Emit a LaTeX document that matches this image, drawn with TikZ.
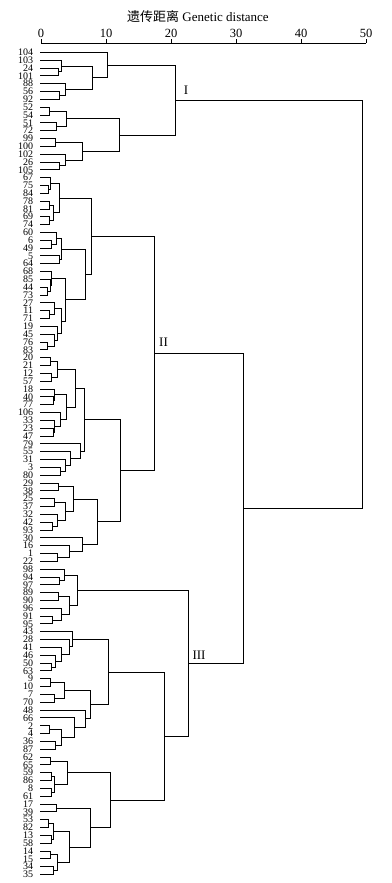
\documentclass[tikz,border=0pt]{standalone}
\usepackage{fontspec}
\setmainfont{Liberation Serif}
\newfontfamily\cjk{Noto Sans CJK SC}
\usetikzlibrary{calc}

% 枝の結合: 名前, 距離(x), 子1, 子2
\newcommand{\mrg}[4]{%
  \coordinate (#1m) at ($(#3)!0.5!(#4)$);
  \coordinate (#1) at (#2,0 |- #1m);
  \draw (#3) -| (#1) (#4) -| (#1);}

\tikzset{
  leaflab/.style={anchor=east, inner sep=0pt, font=\fontsize{10}{10}\selectfont},
  ticklab/.style={inner sep=0pt, font=\fontsize{12.5}{12.5}\selectfont},
  grouplab/.style={inner sep=0pt, font=\fontsize{13}{13}\selectfont}
}

\begin{document}
\begin{tikzpicture}[x=1pt, y=-1pt, line width=0.8pt]
    \useasboundingbox (0,0) rectangle (391,883);

    % 軸
    \node[font=\fontsize{13}{13}\selectfont, inner sep=0pt] (title) at (198,17) {{\cjk 遗传距离} Genetic distance};
    \coordinate (a0) at (41,43);
    \coordinate (a50) at (366,43);
    \draw (a0) -- (a50);
    \foreach \v in {0,10,20,30,40,50} {
        \coordinate (tk\v) at ({41+6.5*\v},43);
        \draw (tk\v) -- ++(0,-3.5);
        \node[ticklab] (v\v) at ({41+6.5*\v},33) {\v};
    }

    % 葉
    \foreach \lab [count=\i] in {104,103,24,101,88,56,92,52,54,51,72,99,100,102,26,105,
        67,75,84,78,81,69,74,60,6,49,5,64,68,85,44,73,27,11,71,19,45,76,83,
        20,21,12,57,18,40,77,106,33,23,47,79,55,31,3,80,29,38,25,37,32,42,93,30,16,1,22,
        98,94,97,89,90,96,91,95,43,28,41,46,50,63,9,10,7,70,48,66,2,4,36,87,
        62,65,59,86,8,61,17,39,53,82,13,58,14,15,34,35} {
        \node[leaflab] (t\lab) at (33.5,{52.3+(\i-1)*7.83}) {\lab};
        \coordinate (l\lab) at (40,{52.3+(\i-1)*7.83});
    }

    % 群 I
    \mrg{m1}{58.3}{l24}{l101}
    \mrg{m2}{61.7}{l103}{m1}
    \mrg{m3}{59.3}{l56}{l92}
    \mrg{m4}{65.3}{l88}{m3}
    \mrg{m5}{92.7}{m2}{m4}
    \mrg{m6}{107.3}{l104}{m5}
    \mrg{m7}{49.3}{l52}{l54}
    \mrg{m8}{56.7}{l51}{l72}
    \mrg{m9}{66.7}{m7}{m8}
    \mrg{m10}{55}{l99}{l100}
    \mrg{m11}{59.3}{l26}{l105}
    \mrg{m12}{65.3}{l102}{m11}
    \mrg{m13}{82.3}{m10}{m12}
    \mrg{m14}{119.3}{m9}{m13}
    \mrg{cI}{175.7}{m6}{m14}

    % 群 II
    \mrg{m15}{48.3}{l75}{l84}
    \mrg{m16}{50.7}{l67}{m15}
    \mrg{m17}{49.3}{l78}{l81}
    \mrg{m18}{49.3}{l69}{l74}
    \mrg{m19}{53.3}{m17}{m18}
    \mrg{m20}{59.3}{m16}{m19}
    \mrg{m21}{51}{l6}{l49}
    \mrg{m22}{56.7}{l60}{m21}
    \mrg{m23}{59.3}{l5}{l64}
    \mrg{m24}{61}{m22}{m23}
    \mrg{m25}{47.3}{l44}{l73}
    \mrg{m26}{50}{l85}{m25}
    \mrg{m27}{51.7}{l68}{m26}
    \mrg{m28}{49}{l11}{l71}
    \mrg{m29}{54}{l27}{m28}
    \mrg{m30}{47.7}{l76}{l83}
    \mrg{m31}{54}{l45}{m30}
    \mrg{m32}{57.3}{l19}{m31}
    \mrg{m33}{61}{m29}{m32}
    \mrg{m34}{65.3}{m27}{m33}
    \mrg{m35}{85.7}{m24}{m34}
    \mrg{m36}{91}{m20}{m35}
    \mrg{m37}{50}{l20}{l21}
    \mrg{m38}{51}{l12}{l57}
    \mrg{m39}{57.3}{m37}{m38}
    \mrg{m40}{53.3}{l40}{l77}
    \mrg{m41}{54.3}{l18}{m40}
    \mrg{m42}{53.3}{l23}{l47}
    \mrg{m43}{54.3}{l33}{m42}
    \mrg{m44}{60.3}{l106}{m43}
    \mrg{m45}{66.7}{m41}{m44}
    \mrg{m46}{75.3}{m39}{m45}
    \mrg{m47}{60.7}{l3}{l80}
    \mrg{m48}{65}{l31}{m47}
    \mrg{m49}{70}{l55}{m48}
    \mrg{m50}{80.7}{l79}{m49}
    \mrg{m51}{84.3}{m46}{m50}
    \mrg{m52}{58.3}{l29}{l38}
    \mrg{m53}{54.3}{l25}{l37}
    \mrg{m54}{52.3}{l42}{l93}
    \mrg{m55}{57.3}{l32}{m54}
    \mrg{m56}{65.3}{m53}{m55}
    \mrg{m57}{73.3}{m52}{m56}
    \mrg{m58}{57.3}{l1}{l22}
    \mrg{m59}{69.3}{l16}{m58}
    \mrg{m60}{82.3}{l30}{m59}
    \mrg{m61}{97.3}{m57}{m60}
    \mrg{m62}{120}{m51}{m61}
    \mrg{cII}{154.3}{m36}{m62}

    % 群 III
    \mrg{m64}{59.3}{l94}{l97}
    \mrg{m65}{64.3}{l98}{m64}
    \mrg{m66}{58.3}{l89}{l90}
    \mrg{m67}{52.3}{l91}{l95}
    \mrg{m68}{61.7}{l96}{m67}
    \mrg{m69}{69.3}{m66}{m68}
    \mrg{m70}{77.3}{m65}{m69}
    \mrg{m71}{51}{l50}{l63}
    \mrg{m72}{55}{l46}{m71}
    \mrg{m73}{61.7}{l41}{m72}
    \mrg{m74}{69.3}{l28}{m73}
    \mrg{m75}{72.7}{l43}{m74}
    \mrg{m76}{50}{l9}{l10}
    \mrg{m77}{54.3}{l7}{l70}
    \mrg{m78}{64.3}{m76}{m77}
    \mrg{m79}{49.3}{l2}{l4}
    \mrg{m80}{55}{l36}{l87}
    \mrg{m81}{61.7}{m79}{m80}
    \mrg{m82}{74}{l66}{m81}
    \mrg{m83}{85.7}{l48}{m82}
    \mrg{m84}{90.7}{m78}{m83}
    \mrg{m85}{108.3}{m75}{m84}
    \mrg{m86}{50}{l62}{l65}
    \mrg{m87}{51}{l59}{l86}
    \mrg{m88}{51}{l8}{l61}
    \mrg{m89}{54}{m87}{m88}
    \mrg{m90}{67.7}{m86}{m89}
    \mrg{m91}{56.7}{l17}{l39}
    \mrg{m92}{48.3}{l53}{l82}
    \mrg{m93}{51}{l13}{l58}
    \mrg{m94}{53.3}{m92}{m93}
    \mrg{m95}{50}{l14}{l15}
    \mrg{m96}{53.3}{l34}{l35}
    \mrg{m97}{57.3}{m95}{m96}
    \mrg{m98}{69.3}{m94}{m97}
    \mrg{m99}{90.7}{m91}{m98}
    \mrg{m100}{110}{m90}{m99}
    \mrg{m101}{164.3}{m85}{m100}
    \mrg{cIII}{188}{m70}{m101}

    % 上位の結合
    \mrg{m103}{243}{cII}{cIII}
    \mrg{root}{362}{cI}{m103}

    % 群の名前
    \node[grouplab] (gI) at (186,90) {I};
    \node[grouplab] (gII) at (163.5,342) {II};
    \node[grouplab] (gIII) at (199,655) {III};
\end{tikzpicture}
\end{document}
